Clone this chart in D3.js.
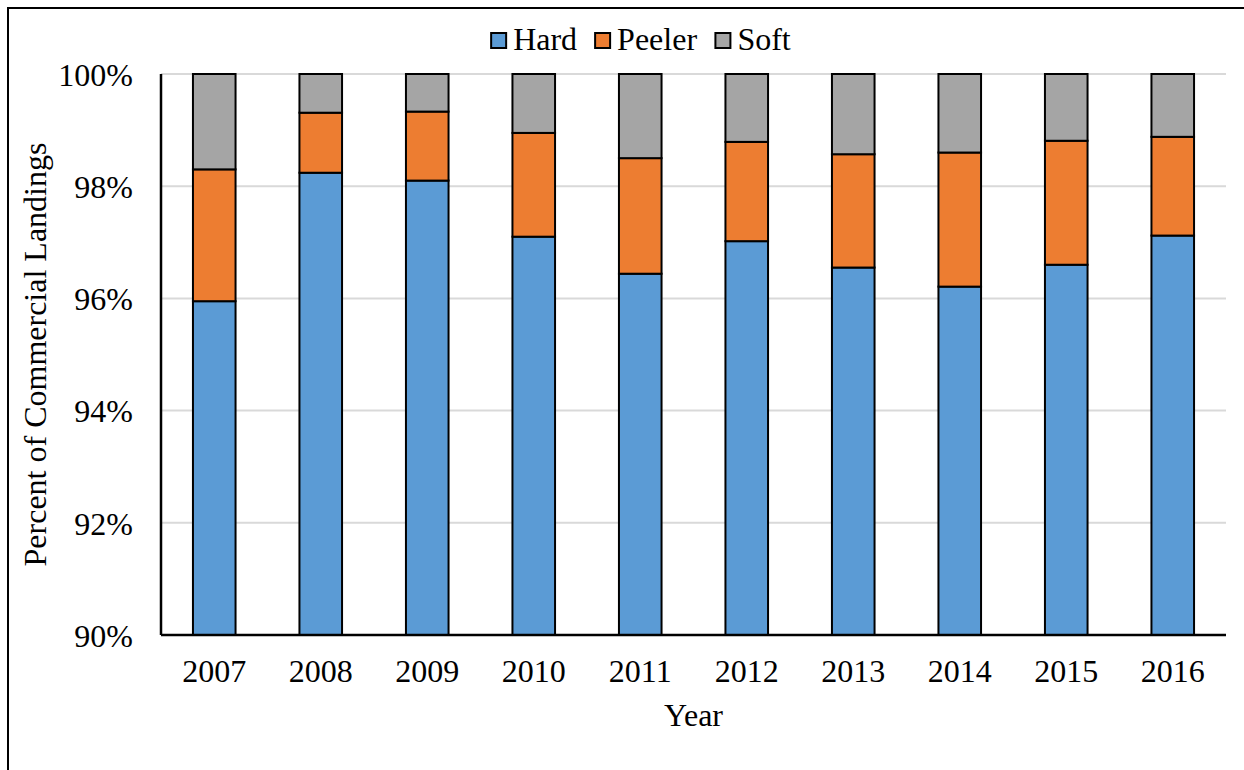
<!DOCTYPE html>
<html>
<head>
<meta charset="utf-8">
<script src="https://cdn.jsdelivr.net/npm/d3@7"></script>
<style>
  body { margin: 0; background: #fff; }
  svg text { font-family: "Times New Roman", "Liberation Serif", Tinos, "DejaVu Serif", serif; fill: #000; }
</style>
</head>
<body>
<svg id="chart" width="1244" height="770"></svg>
<script>
// values (percent of commercial landings)
const years  = ["2007", "2008", "2009", "2010", "2011", "2012", "2013", "2014", "2015", "2016"];
const hard   = [95.95, 98.24, 98.10, 97.10, 96.44, 97.02, 96.55, 96.21, 96.60, 97.12];
const peeler = [2.35, 1.07, 1.23, 1.85, 2.06, 1.77, 2.02, 2.39, 2.21, 1.76];
const soft   = [1.70, 0.69, 0.67, 1.05, 1.50, 1.21, 1.43, 1.40, 1.19, 1.12];
const seriesNames = ["Hard", "Peeler", "Soft"];
const yTicks = [90, 92, 94, 96, 98, 100];

const COLORS = { Hard: "#5B9BD5", Peeler: "#ED7D31", Soft: "#A5A5A5" };
const FONT = '"Times New Roman", "Liberation Serif", Tinos, "DejaVu Serif", serif';
const fontSize = 32;

const margin = { top: 74, right: 18, bottom: 135, left: 161 };
const width = 1244 - margin.left - margin.right;
const height = 770 - margin.top - margin.bottom;

const svg = d3.select("#chart");

// outer frame (cut off on right and bottom like the source)
svg.append("rect")
    .attr("x", 8).attr("y", 8)
    .attr("width", 1260).attr("height", 790)
    .attr("fill", "none")
    .attr("stroke", "#000")
    .attr("stroke-width", 2);

const g = svg.append("g")
    .attr("transform", `translate(${margin.left},${margin.top})`);

const x = d3.scaleBand()
    .domain(years)
    .range([0, width])
    .paddingInner(0.6)
    .paddingOuter(0.3);

const y = d3.scaleLinear()
    .domain([90, 100])
    .range([height, 0]);

// gridlines
g.append("g")
    .selectAll("line")
    .data(yTicks)
    .enter()
    .append("line")
    .attr("x1", 0).attr("x2", width)
    .attr("y1", d => y(d)).attr("y2", d => y(d))
    .attr("stroke", "#d9d9d9")
    .attr("stroke-width", 2);

// stacked data, bars are cut at the 90% baseline
const rows = years.map((yr, i) => ({ year: yr, Hard: hard[i], Peeler: peeler[i], Soft: soft[i] }));
const stacked = d3.stack().keys(seriesNames)(rows);

g.append("g")
    .selectAll("g")
    .data(stacked)
    .enter()
    .append("g")
    .attr("fill", d => COLORS[d.key])
    .selectAll("rect")
    .data(d => d)
    .enter()
    .append("rect")
    .attr("x", d => x(d.data.year))
    .attr("width", x.bandwidth())
    .attr("y", d => y(Math.min(d[1], 100)))
    .attr("height", d => y(Math.max(d[0], 90)) - y(Math.min(d[1], 100)))
    .attr("stroke", "#000")
    .attr("stroke-width", 2);

// axes
const yAxis = g.append("g")
    .call(d3.axisLeft(y).tickValues(yTicks).tickFormat(d => d + "%").tickSize(0).tickPadding(28));
yAxis.attr("font-family", FONT);
yAxis.select("path.domain").remove();
yAxis.selectAll("text")
    .attr("font-size", fontSize)
    .attr("dy", "0.35em");

const xAxis = g.append("g")
    .attr("transform", `translate(0,${height})`)
    .call(d3.axisBottom(x).tickSize(0).tickPadding(24));
xAxis.attr("font-family", FONT);
xAxis.select("path.domain").remove();
xAxis.selectAll("text")
    .attr("font-size", fontSize);

// axis lines
g.append("line")
    .attr("x1", 0).attr("x2", 0)
    .attr("y1", 0).attr("y2", height)
    .attr("stroke", "#000").attr("stroke-width", 2.5);
g.append("line")
    .attr("x1", 0).attr("x2", width)
    .attr("y1", height).attr("y2", height)
    .attr("stroke", "#000").attr("stroke-width", 2.5);

// axis titles
svg.append("text")
    .attr("transform", `translate(46,${margin.top + height / 2}) rotate(-90)`)
    .attr("text-anchor", "middle")
    .attr("font-size", fontSize)
    .text("Percent of Commercial Landings");

svg.append("text")
    .attr("x", margin.left + width / 2)
    .attr("y", 726)
    .attr("text-anchor", "middle")
    .attr("font-size", fontSize)
    .text("Year");

// legend
const legend = svg.append("g");
const items = legend.selectAll("g")
    .data(seriesNames)
    .enter()
    .append("g");
items.append("rect")
    .attr("width", 15).attr("height", 15)
    .attr("y", 33)
    .attr("fill", d => COLORS[d])
    .attr("stroke", "#000")
    .attr("stroke-width", 2);
items.append("text")
    .attr("x", 22)
    .attr("y", 50)
    .attr("font-size", fontSize)
    .text(d => d);

let lx = 0;
items.each(function () {
    d3.select(this).attr("transform", `translate(${lx},0)`);
    lx += this.getBBox().width + 18;
});
const legendW = lx - 18;
legend.attr("transform", `translate(${641 - legendW / 2},0)`);
</script>
</body>
</html>
